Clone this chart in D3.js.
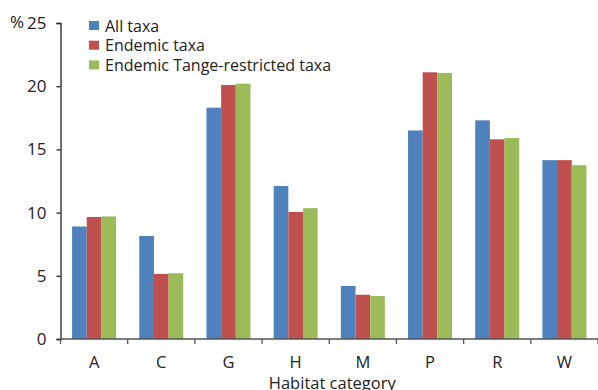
<!DOCTYPE html>
<html>
<head>
<meta charset="utf-8">
<script src="https://cdn.jsdelivr.net/npm/d3@7"></script>
<style>
html,body{margin:0;padding:0;background:#fff;}
svg{display:block;font-family:"Open Sans","Liberation Sans",sans-serif;}
</style>
</head>
<body>
<svg id="chart" width="598" height="390"></svg>
<script>
const categories = ["A","C","G","H","M","P","R","W"];
const seriesNames = ["All taxa","Endemic taxa","Endemic Tange-restricted taxa"];
const allTaxa      = [8.9, 8.15, 18.3, 12.1, 4.2, 16.5, 17.3, 14.15];
const endemicTaxa  = [9.65, 5.15, 20.1, 10.05, 3.5, 21.1, 15.8, 14.15];
const tangeTaxa    = [9.7, 5.2, 20.2, 10.35, 3.4, 21.05, 15.9, 13.75];
const yTicks = [0,5,10,15,20,25];
const colors = ["#4F81BD","#C0504D","#9BBB59"];

(function(){
const seriesValues = [allTaxa, endemicTaxa, tangeTaxa];
const svg = d3.select("#chart");
const mLeft = 60.5, mRight = 598, mTop = 23, mBottom = 339;

const x0 = d3.scaleBand().domain(categories).range([mLeft, mRight]).padding(0);
const groupW = x0.bandwidth() * 0.655;
const x1 = d3.scaleBand().domain(d3.range(3)).range([0, groupW]).padding(0);
const y = d3.scaleLinear().domain([0,25]).range([mBottom, mTop]);

// bars
const g = svg.append("g");
categories.forEach((c, i) => {
  const gx = x0(c) + (x0.bandwidth() - groupW) / 2;
  seriesValues.forEach((vals, s) => {
    g.append("rect")
      .attr("x", gx + x1(s))
      .attr("y", y(vals[i]))
      .attr("width", x1.bandwidth())
      .attr("height", y(0) - y(vals[i]))
      .attr("fill", colors[s]);
  });
});

// y axis
const yAxis = svg.append("g")
  .attr("transform", `translate(${mLeft},0)`)
  .call(d3.axisLeft(y).tickValues(yTicks).tickSize(4).tickPadding(10).tickFormat(d3.format("d")));
yAxis.select(".domain").attr("stroke", "#222").attr("stroke-width", 1.3);
yAxis.selectAll(".tick line").attr("stroke", "#222").attr("stroke-width", 1.3);
yAxis.selectAll(".tick text").attr("font-size", 17).attr("fill", "#222").attr("font-family", "'Open Sans',sans-serif");
svg.append("text").attr("x", 10).attr("y", y(25)).attr("dy", "0.32em")
  .attr("font-size", 17).attr("fill", "#222").text("%");

// x axis
const xAxisG = svg.append("g").attr("transform", `translate(0,${mBottom})`);
xAxisG.append("line").attr("x1", mLeft).attr("x2", mRight).attr("y1", 0).attr("y2", 0)
  .attr("stroke", "#555").attr("stroke-width", 1.5);
const bounds = categories.map(c => x0(c)).concat([mRight]);
xAxisG.selectAll("line.tk").data(bounds).enter().append("line")
  .attr("class","tk").attr("x1", d => d).attr("x2", d => d).attr("y1", 0).attr("y2", 5)
  .attr("stroke", "#555").attr("stroke-width", 1.3);
xAxisG.selectAll("text.lbl").data(categories).enter().append("text")
  .attr("class","lbl")
  .attr("x", c => x0(c) + x0.bandwidth()/2)
  .attr("y", 29)
  .attr("text-anchor","middle").attr("font-size", 16.5).attr("fill","#222").text(c => c);
svg.append("text").attr("x", (mLeft + mRight)/2 + 3).attr("y", 389)
  .attr("text-anchor","middle").attr("font-size", 16.5).attr("fill","#222").text("Habitat category");

// legend
const leg = svg.append("g");
seriesNames.forEach((n, i) => {
  const yy = 21 + i * 19.7;
  leg.append("rect").attr("x", 89).attr("y", yy).attr("width", 10).attr("height", 9).attr("fill", colors[i]);
  leg.append("text").attr("x", 105).attr("y", yy + 5).attr("dy","0.35em")
    .attr("font-size", 16).attr("fill","#222").text(n);
});
})();
</script>
</body>
</html>
